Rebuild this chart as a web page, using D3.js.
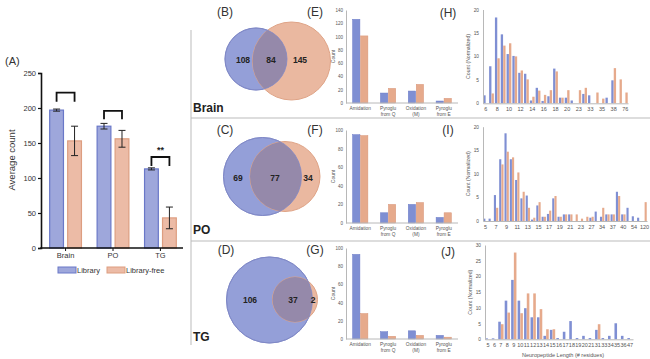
<!DOCTYPE html>
<html><head><meta charset="utf-8">
<script src="https://cdn.jsdelivr.net/npm/d3@7"></script>
<style>body{margin:0;background:#fff}svg{display:block;font-family:"Liberation Sans",Arial,sans-serif}</style>
</head><body>
<script>
// ---------- DATA ----------
const groupsA = ["Brain","PO","TG"];
const libMean = [197,174,113];
const libErr  = [1.5,4,1.5];
const freeMean = [153,156,43];
const freeErr  = [21,12,15.5];
const bracketTop = [222,196,130];
const bracketLeg = [209,184,117];
const sigLabel = ["","","**"];
const ticksA = [0,50,100,150,200,250];
const seriesNames = ["Library","Library-free"];

const vennBrain = [108,84,145];
const vennPO = [69,77,34];
const vennTG = [106,37,2];

const modCats = ["Amidation","Pyroglu from Q","Oxidation (M)","Pyroglu from E"];
const modLabels = [["Amidation"],["Pyroglu","from Q"],["Oxidation","(M)"],["Pyroglu","from E"]];
const brainModLib = [126,15,18,3];
const brainModFree = [101,22,28,7];
const poModLib = [95,11,20,6];
const poModFree = [94,20,22,11];
const tgModLib = [93,8,9,4];
const tgModFree = [28,3,4,2];

const lenBrain = ["6","7","8","9","10","11","12","13","14","15","16","17","18","19","20","22","23","25","33","34","35","37","38","49","76"];
const lenBrainLib  = [1.7,7.9,18.3,14.7,10.5,10.1,6.5,6.3,0.6,3.3,0.5,1.5,7.4,1.2,1.2,0.6,0,2.0,1.7,0,0,1.2,4.9,0,0];
const lenBrainFree = [0,2.1,9.6,12.3,12.8,10.0,7.0,5.1,1.4,2.7,1.8,2.8,6.8,1.2,2.8,0,2.8,3.3,0,2.3,1.0,0,7.5,5.1,2.3];

const lenPO = ["5","6","7","8","9","10","11","12","13","14","15","16","17","18","19","20","21","22","23","25","27","30","34","35","37","38","40","41","54","60","120"];
const lenPOLib  = [0.5,0.5,5.5,13.1,18.6,13.1,8.7,4.8,5.4,0.3,3.3,0.9,1.5,4.8,0.9,1.4,1.4,0,0,0,0.7,2.0,0.9,1.4,1.4,6.2,1.4,2.8,1.0,0.7,0];
const lenPOFree = [0,0,2.8,12,14.7,13.5,10.3,6.2,2.8,0.7,4.0,0.9,2.2,5.3,0.9,1.4,1.4,1.4,0.5,0.9,0.9,0,2.8,1.4,1.4,5.3,1.4,0,0,0,4.0];

const lenTG = ["5","6","7","8","9","10","11","12","13","14","15","16","17","18","19","20","21","31","33","34","35","36","47"];
const lenTGLib  = [0.3,0.3,5.6,12.3,18.9,12.3,9.9,7.0,7.0,1.1,3.0,0.4,2.4,5.8,0.4,1.1,0.4,3.0,0.4,1.1,5.1,1.1,0.4];
const lenTGFree = [0,0,4.8,8.5,27.6,8.3,14.6,14.6,9.6,3.2,3.2,0,0,0,0,0,0,4.8,0,0,0,0,0];

// ---------- STYLE ----------
const BLUE = "#9ea7db", BLUE_D = "#6a78c8";
const ORG = "#ecbba6", ORG_D = "#dd9e80";
const HBLUE = "#7f8fd3", HORG = "#e6aa8c";
const GRID = "#b8b8b8", TXT = "#555";

const svg = d3.select("body").append("svg").attr("width",650).attr("height",359);

// ---------- PANEL A ----------
(function(){
  const g = svg.append("g");
  const y = d3.scaleLinear().domain([0,250]).range([248,73]);
  const x = d3.scaleBand().domain(groupsA).range([41.5,184.5]).paddingInner(0.305).paddingOuter(0.16);
  const xs = d3.scaleBand().domain(seriesNames).range([0,x.bandwidth()]).paddingInner(0.167);
  const rows = groupsA.map((k,i)=>({k,i,vals:[{s:"Library",m:libMean[i],e:libErr[i]},{s:"Library-free",m:freeMean[i],e:freeErr[i]}]}));
  const grp = g.selectAll("g.grp").data(rows).join("g").attr("transform",d=>`translate(${x(d.k)},0)`);
  grp.selectAll("rect").data(d=>d.vals).join("rect")
    .attr("x",d=>xs(d.s)+0.6).attr("width",xs.bandwidth()-1.2)
    .attr("y",d=>y(d.m)).attr("height",d=>y(0)-y(d.m))
    .attr("fill",d=>d.s==="Library"?BLUE:ORG)
    .attr("stroke",d=>d.s==="Library"?BLUE_D:ORG_D).attr("stroke-width",1.2);
  const eb = grp.selectAll("g.eb").data(d=>d.vals).join("g").attr("class","eb")
    .attr("transform",d=>`translate(${xs(d.s)+xs.bandwidth()/2},0)`);
  eb.append("line").attr("y1",d=>y(d.m-d.e)).attr("y2",d=>y(d.m+d.e)).attr("stroke","#222").attr("stroke-width",1);
  eb.append("line").attr("x1",-3.5).attr("x2",3.5).attr("y1",d=>y(d.m+d.e)).attr("y2",d=>y(d.m+d.e)).attr("stroke","#222").attr("stroke-width",1);
  eb.append("line").attr("x1",-3.5).attr("x2",3.5).attr("y1",d=>y(d.m-d.e)).attr("y2",d=>y(d.m-d.e)).attr("stroke","#222").attr("stroke-width",1);
  grp.append("path").attr("fill","none").attr("stroke","#111").attr("stroke-width",1.8)
    .attr("d",d=>{const a=xs("Library")+xs.bandwidth()/2,b=xs("Library-free")+xs.bandwidth()/2;
      return `M${a},${y(bracketLeg[d.i])}V${y(bracketTop[d.i])}H${b}V${y(bracketLeg[d.i])}`;});
  grp.append("text").attr("x",x.bandwidth()/2).attr("y",d=>y(bracketTop[d.i])-4).attr("text-anchor","middle")
    .attr("font-size",9).attr("font-weight","bold").attr("fill","#222").text(d=>sigLabel[d.i]);
  const ay = g.append("g").attr("transform","translate(41,0)").call(d3.axisLeft(y).tickValues(ticksA).tickSize(3).tickPadding(2));
  ay.select(".domain").attr("stroke","#111").attr("stroke-width",1.6);
  ay.selectAll(".tick line").attr("stroke","#111").attr("stroke-width",1.2);
  ay.selectAll("text").attr("font-size",7.5).attr("fill","#333");
  const ax = g.append("g").attr("transform","translate(0,248)").call(d3.axisBottom(x).tickSize(3).tickPadding(2).tickSizeOuter(0));
  ax.select(".domain").attr("stroke","#111").attr("stroke-width",1.6).attr("d","M40.2,0H183");
  ax.selectAll(".tick line").attr("stroke","#111");
  ax.selectAll("text").attr("font-size",7.5).attr("fill","#333");
  g.append("text").attr("transform","translate(15,160) rotate(-90)").attr("text-anchor","middle")
    .attr("font-size",9.5).attr("fill","#333").text("Average count");
  g.append("text").attr("x",5).attr("y",65).attr("font-size",11).attr("fill","#333").text("(A)");
  const leg = g.append("g").attr("transform","translate(0,270)");
  const lx = [58,107];
  seriesNames.forEach((s,i)=>{
    leg.append("rect").attr("x",lx[i]).attr("y",-3).attr("width",18).attr("height",6)
      .attr("fill",i?ORG:BLUE).attr("stroke",i?ORG_D:BLUE_D).attr("stroke-width",1);
    leg.append("text").attr("x",lx[i]+19).attr("y",2.7).attr("font-size",7.5).attr("fill","#333").text(s);
  });
})();

// ---------- separators ----------
svg.append("line").attr("x1",191).attr("x2",191).attr("y1",30).attr("y2",345).attr("stroke","#bbb").attr("stroke-width",1);
svg.append("line").attr("x1",191).attr("x2",650).attr("y1",118).attr("y2",118).attr("stroke","#bbb");
svg.append("line").attr("x1",191).attr("x2",650).attr("y1",241).attr("y2",241).attr("stroke","#bbb");

// ---------- VENNS ----------
function venn(vals, lay){
  const g = svg.append("g");
  const id = "clip"+lay.tag;
  g.append("clipPath").attr("id",id).append("circle").attr("cx",lay.bx).attr("cy",lay.by).attr("r",lay.br);
  g.append("circle").attr("cx",lay.bx).attr("cy",lay.by).attr("r",lay.br).attr("fill","#949fd8").attr("stroke","#7f8bcc").attr("stroke-width",1);
  g.append("circle").attr("cx",lay.ox).attr("cy",lay.oy).attr("r",lay.or).attr("fill","#eab8a0").attr("stroke","#dfa386").attr("stroke-width",1);
  g.append("circle").attr("clip-path",`url(#${id})`).attr("cx",lay.ox).attr("cy",lay.oy).attr("r",lay.or).attr("fill","#9589aa");
  g.append("circle").attr("cx",lay.bx).attr("cy",lay.by).attr("r",lay.br).attr("fill","none").attr("stroke","#8088c4").attr("stroke-width",0.8);
  vals.forEach((v,i)=>{
    g.append("text").attr("x",lay.tx[i]).attr("y",lay.ty+3).attr("text-anchor","middle")
      .attr("font-size",8.5).attr("font-weight","bold").attr("fill","#222").text(v);
  });
}
venn(vennBrain,{tag:"B",bx:256,by:59,br:31,ox:291.5,oy:61,or:39,tx:[243,271,300],ty:60});
venn(vennPO,{tag:"C",bx:262.5,by:176.5,br:39,ox:285,oy:176.5,or:35,tx:[238,275,308],ty:178});
venn(vennTG,{tag:"D",bx:269.5,by:300,br:43,ox:295,oy:299.5,or:22.5,tx:[250,293,313],ty:300});

const plabels = [["(B)",225,16],["(E)",315,16],["(C)",225,134],["(F)",315,134],["(D)",226,254],["(G)",315,254],["(H)",448,17],["(I)",448,134],["(J)",448,256]];
plabels.forEach(p=>svg.append("text").attr("x",p[1]).attr("y",p[2]).attr("text-anchor","middle").attr("font-size",12).attr("fill","#333").text(p[0]));
[["Brain",193,112],["PO",193,234],["TG",193,341]].forEach(p=>svg.append("text").attr("x",p[1]).attr("y",p[2]).attr("font-size",12).attr("font-weight","bold").attr("fill","#222").text(p[0]));

// ---------- MOD BAR CHARTS ----------
function modChart(lib, free, yTop, yBot, ymax, step){
  const g = svg.append("g");
  const y = d3.scaleLinear().domain([0,ymax]).range([yBot,yTop]);
  const x = d3.scaleBand().domain(modCats).range([347,457]).paddingInner(0.45).paddingOuter(0.2);
  const xs = d3.scaleBand().domain([0,1]).range([0,x.bandwidth()]).paddingInner(0.08);
  modCats.forEach((c,i)=>{
    [lib[i],free[i]].forEach((v,j)=>{
      g.append("rect").attr("x",x(c)+xs(j)).attr("width",xs.bandwidth()).attr("y",y(v)).attr("height",yBot-y(v))
        .attr("fill",j?HORG:HBLUE).attr("stroke",j?"#d8967a":"#6c7cc8").attr("stroke-width",0.5);
    });
  });
  const ay = g.append("g").attr("transform","translate(346,0)").call(d3.axisLeft(y).tickValues(d3.range(0,ymax+1,step)).tickSize(0).tickPadding(3));
  ay.select(".domain").attr("stroke",GRID);
  ay.selectAll("text").attr("font-size",4.5).attr("fill",TXT);
  g.append("line").attr("x1",346).attr("x2",458).attr("y1",yBot).attr("y2",yBot).attr("stroke",GRID);
  modCats.forEach((c,i)=>{
    modLabels[i].forEach((t,k)=>g.append("text").attr("x",x(c)+x.bandwidth()/2).attr("y",yBot+7+k*5.5)
      .attr("text-anchor","middle").attr("font-size",4.8).attr("fill",TXT).text(t));
  });
  g.append("text").attr("transform",`translate(335,${(yTop+yBot)/2}) rotate(-90)`).attr("text-anchor","middle")
    .attr("font-size",5).attr("fill",TXT).text("Count");
}
modChart(brainModLib,brainModFree,10,103,140,20);
modChart(poModLib,poModFree,130,223,100,20);
modChart(tgModLib,tgModFree,248,339,100,20);

// ---------- LENGTH HISTOGRAMS ----------
function hist(cats, lib, free, x0, x1, yTop, yBot, ymax, step, every){
  const g = svg.append("g");
  const y = d3.scaleLinear().domain([0,ymax]).range([yBot,yTop]);
  const x = d3.scaleBand().domain(cats).range([x0,x1]).paddingInner(0.18).paddingOuter(0.05);
  const xs = d3.scaleBand().domain([0,1]).range([0,x.bandwidth()]).paddingInner(0.05);
  cats.forEach((c,i)=>{
    [lib[i],free[i]].forEach((v,j)=>{
      if(v<=0) return;
      g.append("rect").attr("x",x(c)+xs(j)).attr("width",xs.bandwidth()).attr("y",y(v)).attr("height",yBot-y(v))
        .attr("fill",j?HORG:HBLUE);
    });
  });
  const ay = g.append("g").attr("transform",`translate(${x0},0)`).call(d3.axisLeft(y).tickValues(d3.range(0,ymax+1,step)).tickSize(0).tickPadding(4));
  ay.select(".domain").attr("stroke",GRID);
  ay.selectAll("text").attr("font-size",4.8).attr("fill",TXT);
  const ax = g.append("g").attr("transform",`translate(0,${yBot})`).call(d3.axisBottom(x).tickValues(cats.filter((c,i)=>i%every===0)).tickSize(0).tickPadding(4));
  ax.select(".domain").attr("stroke",GRID);
  ax.selectAll("text").attr("font-size",5.5).attr("fill",TXT);
  g.append("text").attr("transform",`translate(${x0-13},${(yTop+yBot)/2}) rotate(-90)`).attr("text-anchor","middle")
    .attr("font-size",5.2).attr("fill",TXT).text("Count (Normalized)");
}
hist(lenBrain,lenBrainLib,lenBrainFree,483,628,9.5,103.3,20,5,2);
hist(lenPO,lenPOLib,lenPOFree,483,647,126.7,221,20,5,2);
hist(lenTG,lenTGLib,lenTGFree,485,633,245,339.3,30,5,1);
svg.append("text").attr("x",563).attr("y",357).attr("text-anchor","middle").attr("font-size",5.5).attr("fill",TXT).text("Neuropeptide Length (# residues)");
</script>
</body></html>
